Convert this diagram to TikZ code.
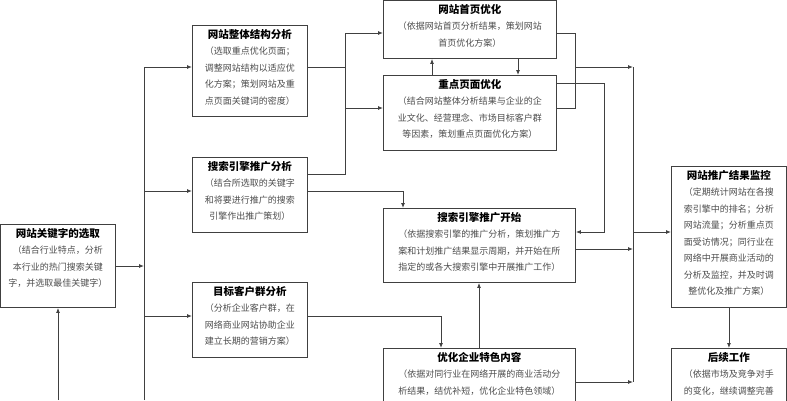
\documentclass[tikz,border=0pt]{standalone}
\usepackage{fontspec}
\setmainfont{Noto Sans CJK SC}
\begin{document}
\begin{tikzpicture}[x=1pt,y=-1pt,
  box/.style={draw=black!75,line width=0.9pt,anchor=north west,inner sep=0pt},
  lbl/.style={anchor=north,align=center,inner sep=0pt,font=\fontsize{9}{16.5}\selectfont,text=black!70},
  ln/.style={draw=black!75,line width=0.9pt},
  ar/.style={ln,-{Latex[length=5pt,width=4pt]}}]
\usetikzlibrary{arrows.meta}
\useasboundingbox (0,0) rectangle (787,400);
\newcommand{\ttl}[1]{{\fontsize{10.5}{16.5}\selectfont\bfseries\color{black}#1}}
\def\mkbox#1#2#3#4#5#6{%
  \node[box,minimum width=#4pt,minimum height=#5pt] (#1) at (#2,#3) {};
  \node[lbl] (#1t) at ([yshift=-4pt]#1.north) {#6};}
\mkbox{A}{0}{224}{115}{83}{\ttl{网站关键字的选取}\\（结合行业特点，分析\\本行业的热门搜索关键\\字，并选取最佳关键字）}
\mkbox{B}{192}{25}{115}{91}{\ttl{网站整体结构分析}\\（选取重点优化页面；\\调整网站结构以适应优\\化方案；策划网站及重\\点页面关键词的密度）}
\mkbox{C}{192}{157}{115}{75}{\ttl{搜索引擎推广分析}\\（结合所选取的关键字\\和将要进行推广的搜索\\引擎作出推广策划）}
\mkbox{D}{192}{282}{115}{75}{\ttl{目标客户群分析}\\（分析企业客户群，在\\网络商业网站协助企业\\建立长期的营销方案）}
\mkbox{E}{383}{0}{173}{58}{\ttl{网站首页优化}\\（依据网站首页分析结果，策划网站\\首页优化方案）}
\mkbox{F}{383}{75}{173}{75}{\ttl{重点页面优化}\\（结合网站整体分析结果与企业的企\\业文化、经营理念、市场目标客户群\\等因素，策划重点页面优化方案）}
\mkbox{G}{383}{208}{192}{74}{\ttl{搜索引擎推广开始}\\（依据搜索引擎的推广分析，策划推广方\\案和计划推广结果显示周期，并开始在所\\指定的或各大搜索引擎中开展推广工作）}
\mkbox{H}{383}{348}{192}{80}{\ttl{优化企业特色内容}\\（依据对同行业在网络开展的商业活动分\\析结果，结优补短，优化企业特色领域）}
\mkbox{I}{671}{166}{115}{141}{\ttl{网站推广结果监控}\\（定期统计网站在各搜\\索引擎中的排名；分析\\网站流量；分析重点页\\面受访情况；同行业在\\网络中开展商业活动的\\分析及监控，并及时调\\整优化及推广方案）}
\mkbox{J}{671}{348}{115}{80}{\ttl{后续工作}\\（依据市场及竞争对手\\的变化，继续调整完善}
\coordinate (tb) at (144,400);
\coordinate (lb) at (58,400);
\coordinate (cx) at (633,0);
% trunk
\draw[ln] (tb) -- (144,67);
\draw[ar] (A.east |- 0,266) -- (144,266);
\draw[ar] (144,67) -- (B.west |- 0,67);
\draw[ar] (144,191) -- (C.west |- 0,191);
\draw[ar] (144,316) -- (D.west |- 0,316);
\draw[ar] (lb) -- (A.south -| lb);
% B,C to E,F
\draw[ln] (B.east |- 0,67) -- (345,67);
\draw[ln] (C.east |- 0,174) -- (345,174) -- (345,33);
\draw[ar] (345,33) -- (E.west |- 0,33);
\draw[ar] (345,108) -- (F.west |- 0,108);
\draw[ar] (C.east |- 0,191) -- (403,191) -- (G.north -| 403,0);
\draw[ar] (D.east |- 0,316) -- (441,316) -- (H.north -| 441,0);
\draw[ar] (H.north -| 479,0) -- (G.south -| 479,0);
\draw[ar] (F.north -| 432,0) -- (E.south -| 432,0);
\draw[ar] (E.south -| 518,0) -- (F.north -| 518,0);
% E,F right
\draw[ln] (E.east |- 0,33) -- (575,33) -- (575,108) -- (F.east |- 0,108);
\draw[ar] (575,67) -- (cx |- 0,67);
\draw[ar] (F.east |- 0,83) -- (604,83) -- (604,232) -- (G.east |- 0,232);
\draw[ar] (G.east |- 0,249) -- (cx |- 0,249);
\draw[ar] (H.east |- 0,382) -- (cx |- 0,382);
\draw[ln] (cx |- 0,67) -- (cx |- 0,382);
\draw[ar] (cx |- 0,232) -- (I.west |- 0,232);
\draw[ar] (I.south) -- (J.north);
\end{tikzpicture}
\end{document}
